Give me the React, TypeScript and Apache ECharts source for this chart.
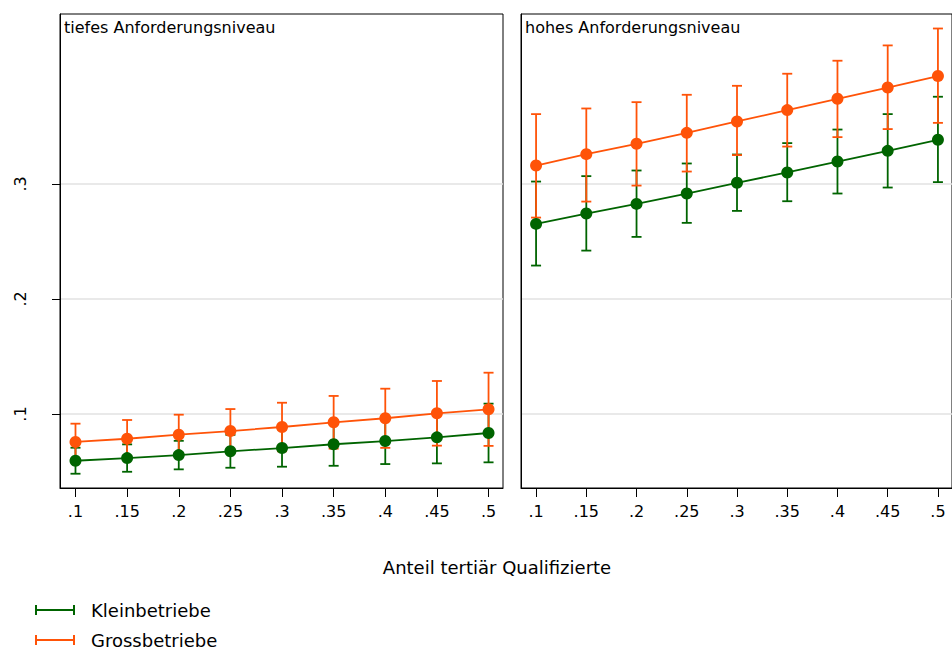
import React, { useEffect, useRef } from "react";
import * as echarts from "echarts";

// Anteil tertiär Qualifizierte (x values)
const xValues = [0.1, 0.15, 0.2, 0.25, 0.3, 0.35, 0.4, 0.45, 0.5];
const xTickValues = [0.1, 0.15, 0.2, 0.25, 0.3, 0.35, 0.4, 0.45, 0.5];
const yTickValues = [0.1, 0.2, 0.3];

const panelTitles = ["tiefes Anforderungsniveau", "hohes Anforderungsniveau"];
const seriesNames = ["Kleinbetriebe", "Grossbetriebe"];
const axisTitle = "Anteil tertiär Qualifizierte";

// tiefes Anforderungsniveau
const lowKlein = [0.0594, 0.0617, 0.0643, 0.0676, 0.0704, 0.0737, 0.0765, 0.0797, 0.0835];
const lowKleinLo = [0.0481, 0.0498, 0.0519, 0.0533, 0.0542, 0.055, 0.0565, 0.0571, 0.058];
const lowKleinHi = [0.0707, 0.0736, 0.0767, 0.0819, 0.0866, 0.0924, 0.0965, 0.1023, 0.109];
const lowGross = [0.0757, 0.0785, 0.082, 0.0852, 0.0887, 0.0928, 0.0963, 0.1006, 0.1041];
const lowGrossLo = [0.0598, 0.0622, 0.0646, 0.0661, 0.0676, 0.0699, 0.0706, 0.0725, 0.0723];
const lowGrossHi = [0.0916, 0.0948, 0.0994, 0.1043, 0.1098, 0.1157, 0.122, 0.1287, 0.1359];

// hohes Anforderungsniveau
const highKlein = [0.2652, 0.2742, 0.2826, 0.2916, 0.3009, 0.3099, 0.3194, 0.3287, 0.3383];
const highKleinLo = [0.229, 0.242, 0.2539, 0.2661, 0.2765, 0.2849, 0.2916, 0.2968, 0.3015];
const highKleinHi = [0.302, 0.3067, 0.3116, 0.3177, 0.3255, 0.3354, 0.3472, 0.3606, 0.3757];
const highGross = [0.3159, 0.3258, 0.3348, 0.3443, 0.3542, 0.3641, 0.3739, 0.3837, 0.3937];
const highGrossLo = [0.2707, 0.2846, 0.2985, 0.3107, 0.325, 0.3324, 0.3406, 0.3476, 0.353];
const highGrossHi = [0.3606, 0.3655, 0.371, 0.3774, 0.3852, 0.3957, 0.407, 0.4203, 0.435];

const GREEN = "#006400";
const ORANGE = "#ff5308";
const FONT = "DejaVu Sans";

const fmt = (v: number) => String(+Number(v).toFixed(2)).replace(/^0\./, ".");

function ciData(lo: number[], hi: number[]) {
  return xValues.map((x, i) => [x, lo[i], hi[i]]);
}
function ptData(vals: number[]) {
  return xValues.map((x, i) => [x, vals[i]]);
}

function ciRender(color: string) {
  return (_params: any, api: any) => {
    const x = api.value(0);
    const pLo = api.coord([x, api.value(1)]);
    const pHi = api.coord([x, api.value(2)]);
    const hw = 5;
    const style = { stroke: color, lineWidth: 1.8, fill: "none" };
    return {
      type: "group",
      children: [
        { type: "line", shape: { x1: pLo[0], y1: pLo[1], x2: pHi[0], y2: pHi[1] }, style },
        { type: "line", shape: { x1: pLo[0] - hw, y1: pLo[1], x2: pLo[0] + hw, y2: pLo[1] }, style },
        { type: "line", shape: { x1: pHi[0] - hw, y1: pHi[1], x2: pHi[0] + hw, y2: pHi[1] }, style },
      ],
    };
  };
}

export default function App() {
  const ref = useRef<HTMLDivElement>(null);

  useEffect(() => {
    document.body.style.margin = "0";
    if (!ref.current) return;
    const chart = echarts.init(ref.current, null, { renderer: "svg" });

    const xAxisBase = (gridIndex: number) => ({
      type: "value",
      gridIndex,
      min: 0.085,
      max: 0.514,
      axisLine: { show: true, lineStyle: { color: "#000", width: 1 } },
      axisTick: {
        show: true,
        length: 9,
        lineStyle: { color: "#000", width: 1 },
        customValues: xTickValues,
      },
      axisLabel: {
        show: true,
        customValues: xTickValues,
        formatter: fmt,
        color: "#000",
        fontFamily: FONT,
        fontSize: 16,
        margin: 15,
      },
      splitLine: { show: false },
    });

    const yAxisBase = (gridIndex: number, showLabels: boolean) => ({
      type: "value",
      gridIndex,
      min: 0.0357,
      max: 0.4476,
      axisLine: { show: true, lineStyle: { color: "#000", width: 1 } },
      axisTick: {
        show: showLabels,
        length: 8,
        lineStyle: { color: "#000", width: 1 },
        customValues: yTickValues,
      },
      axisLabel: {
        show: showLabels,
        customValues: yTickValues,
        formatter: fmt,
        rotate: 90,
        color: "#000",
        fontFamily: FONT,
        fontSize: 16,
        margin: 32,
      },
      splitLine: { show: true, lineStyle: { color: "#e2e2e2", width: 1.5 } },
    });

    const option: any = {
      animation: false,
      backgroundColor: "#fff",
      grid: [
        { left: 60, top: 14, width: 443, height: 474, show: true, borderColor: "#000", borderWidth: 1, backgroundColor: "#fff" },
        { left: 521, top: 14, width: 443, height: 474, show: true, borderColor: "#000", borderWidth: 1, backgroundColor: "#fff" },
      ],
      xAxis: [xAxisBase(0), xAxisBase(1)],
      yAxis: [yAxisBase(0, true), yAxisBase(1, false)],
      legend: {
        orient: "vertical",
        left: 35,
        top: 600,
        height: 80,
        padding: 0,
        itemGap: 10,
        itemWidth: 40,
        itemHeight: 10,
        selectedMode: false,
        icon: "path://M0,0H2V10H0Z M2,4H38V6H2Z M38,0H40V10H38Z",
        itemStyle: { borderWidth: 0 },
        textStyle: {
          fontFamily: FONT,
          fontSize: 18,
          color: "#000",
          lineHeight: 20,
          padding: [0, 0, 0, 11],
        },
        data: seriesNames,
      },
      graphic: [
        {
          type: "text",
          left: 64,
          top: 19,
          style: { text: panelTitles[0], fontFamily: FONT, fontSize: 16, fill: "#000" },
        },
        {
          type: "text",
          left: 525,
          top: 19,
          style: { text: panelTitles[1], fontFamily: FONT, fontSize: 16, fill: "#000" },
        },
        {
          type: "text",
          x: 497,
          y: 567,
          style: {
            text: axisTitle,
            fontFamily: FONT,
            fontSize: 18,
            fill: "#000",
            align: "center",
            verticalAlign: "middle",
          },
        },
      ],
      series: [
        {
          type: "custom",
          name: "KB KI tief",
          xAxisIndex: 0,
          yAxisIndex: 0,
          renderItem: ciRender(GREEN),
          encode: { x: 0, y: [1, 2] },
          data: ciData(lowKleinLo, lowKleinHi),
          z: 2,
        },
        {
          type: "custom",
          name: "GB KI tief",
          xAxisIndex: 0,
          yAxisIndex: 0,
          renderItem: ciRender(ORANGE),
          encode: { x: 0, y: [1, 2] },
          data: ciData(lowGrossLo, lowGrossHi),
          z: 2,
        },
        {
          type: "custom",
          name: "KB KI hoch",
          xAxisIndex: 1,
          yAxisIndex: 1,
          renderItem: ciRender(GREEN),
          encode: { x: 0, y: [1, 2] },
          data: ciData(highKleinLo, highKleinHi),
          z: 2,
        },
        {
          type: "custom",
          name: "GB KI hoch",
          xAxisIndex: 1,
          yAxisIndex: 1,
          renderItem: ciRender(ORANGE),
          encode: { x: 0, y: [1, 2] },
          data: ciData(highGrossLo, highGrossHi),
          z: 2,
        },
        ...[
          { name: seriesNames[0], g: 0, d: lowKlein, c: GREEN },
          { name: seriesNames[1], g: 0, d: lowGross, c: ORANGE },
          { name: seriesNames[0], g: 1, d: highKlein, c: GREEN },
          { name: seriesNames[1], g: 1, d: highGross, c: ORANGE },
        ].map((s) => ({
          type: "line",
          name: s.name,
          xAxisIndex: s.g,
          yAxisIndex: s.g,
          data: ptData(s.d),
          color: s.c,
          symbol: "circle",
          symbolSize: 12,
          showSymbol: true,
          lineStyle: { color: s.c, width: 1.8 },
          itemStyle: { color: s.c, borderWidth: 0 },
          z: 3,
        })),
      ],
    };

    chart.setOption(option);
    return () => chart.dispose();
  }, []);

  return <div ref={ref} style={{ width: 952, height: 650 }} />;
}
